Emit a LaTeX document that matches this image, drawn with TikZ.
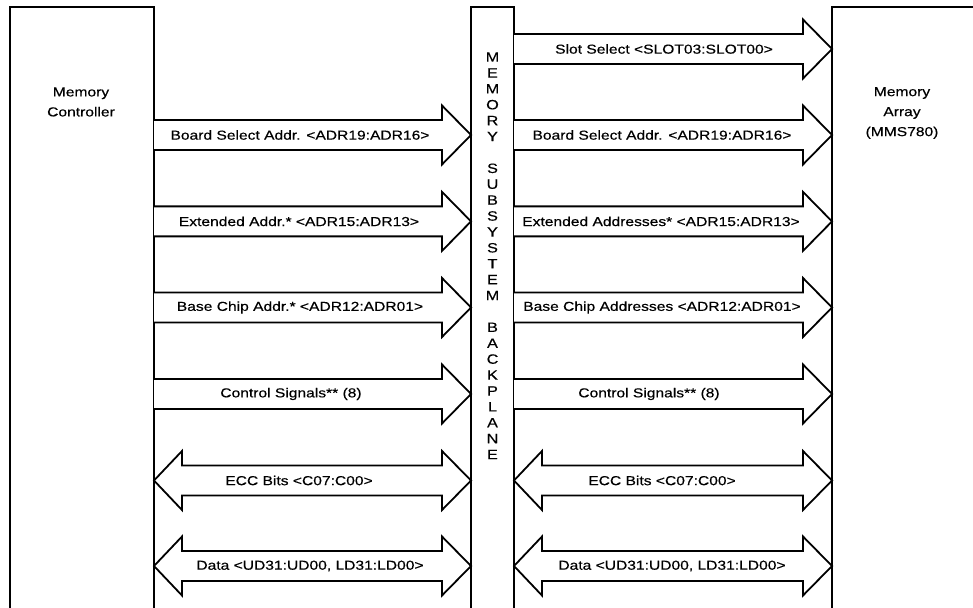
\documentclass[tikz,border=0pt]{standalone}
\usepackage{fontspec}
\setmainfont{Liberation Sans}[FakeStretch=1.2,FakeBold=0.4]
\tikzset{
  outline/.style={line width=1.8bp, line join=miter},
  bus/.style={line width=1.8bp, line join=miter, fill=white},
  lbl/.style={font=\fontsize{13bp}{20bp}\selectfont, inner sep=0pt},
  bpletter/.style={font=\fontsize{13.5bp}{16bp}\selectfont, inner sep=0pt},
}
% single-headed bus: start x, tip x, centre y
\newcommand\busR[3]{%
  \draw[bus] (#1,#3-15) -- (#2-29,#3-15) -- (#2-29,#3-29.5) -- (#2,#3)
    -- (#2-29,#3+29.5) -- (#2-29,#3+15) -- (#1,#3+15);}
% double-headed bus: left tip x, right tip x, centre y
\newcommand\busD[3]{%
  \draw[bus] (#1+28,#3-15) -- (#2-29,#3-15) -- (#2-29,#3-29.5) -- (#2,#3)
    -- (#2-29,#3+29.5) -- (#2-29,#3+15) -- (#1+28,#3+15) -- (#1+28,#3+29.5)
    -- (#1,#3) -- (#1+28,#3-29.5) -- cycle;}
\begin{document}
\begin{tikzpicture}[x=1bp,y=-1bp]
\useasboundingbox (0,0) rectangle (973,608);
% boxes (open at the bottom)
\coordinate (mcTL) at (10,7);
\coordinate (bpTL) at (471,7);
\coordinate (maTL) at (832,7);
\draw[outline] (10,609) -- (mcTL) -- (154,7) -- (154,609);
\draw[outline] (471,609) -- (bpTL) -- (514,7) -- (514,609);
\draw[outline] (832,609) -- (maTL) -- (974,7);

\node[lbl, align=center] (mc) at (81,102) {Memory\\Controller};
\node[lbl, align=center] (ma) at (902,113) {Memory\\Array\\(MMS780)};

% backplane lettering
\foreach \ch/\i in {M/0,E/1,M/2,O/3,R/4,Y/5,S/7,U/8,B/9,S/10,Y/11,S/12,T/13,E/14,M/15,B/17,A/18,C/19,K/20,P/21,L/22,A/23,N/24,E/25}
  \node[bpletter] (bp\i) at (492.5,57+\i*15.9) {\ch};

% left side buses
\busR{154}{471}{135}
\busR{154}{471}{221.4}
\busR{154}{471}{307.5}
\busR{154}{471}{394}
\busD{154}{471}{480.5}
\busD{154}{471}{566}
% right side buses
\busR{514}{832}{49}
\busR{514}{832}{135}
\busR{514}{832}{221.4}
\busR{514}{832}{307.5}
\busR{514}{832}{394}
\busD{514}{832}{480.5}
\busD{514}{832}{566}

% labels left
\node[lbl] (l1) at (300,135) {Board Select Addr. <ADR19:ADR16>};
\node[lbl] (l2) at (299,221.4) {Extended Addr.* <ADR15:ADR13>};
\node[lbl] (l3) at (300,307.5) {Base Chip Addr.* <ADR12:ADR01>};
\node[lbl] (l4) at (291,394) {Control Signals** (8)};
\node[lbl] (l5) at (299,480.5) {ECC Bits <C07:C00>};
\node[lbl] (l6) at (310,566) {Data <UD31:UD00, LD31:LD00>};
% labels right
\node[lbl] (r0) at (664,49) {Slot Select <SLOT03:SLOT00>};
\node[lbl] (r1) at (662,135) {Board Select Addr. <ADR19:ADR16>};
\node[lbl] (r2) at (661,221.4) {Extended Addresses* <ADR15:ADR13>};
\node[lbl] (r3) at (662,307.5) {Base Chip Addresses <ADR12:ADR01>};
\node[lbl] (r4) at (649,394) {Control Signals** (8)};
\node[lbl] (r5) at (662,480.5) {ECC Bits <C07:C00>};
\node[lbl] (r6) at (672,566) {Data <UD31:UD00, LD31:LD00>};
\end{tikzpicture}
\end{document}
